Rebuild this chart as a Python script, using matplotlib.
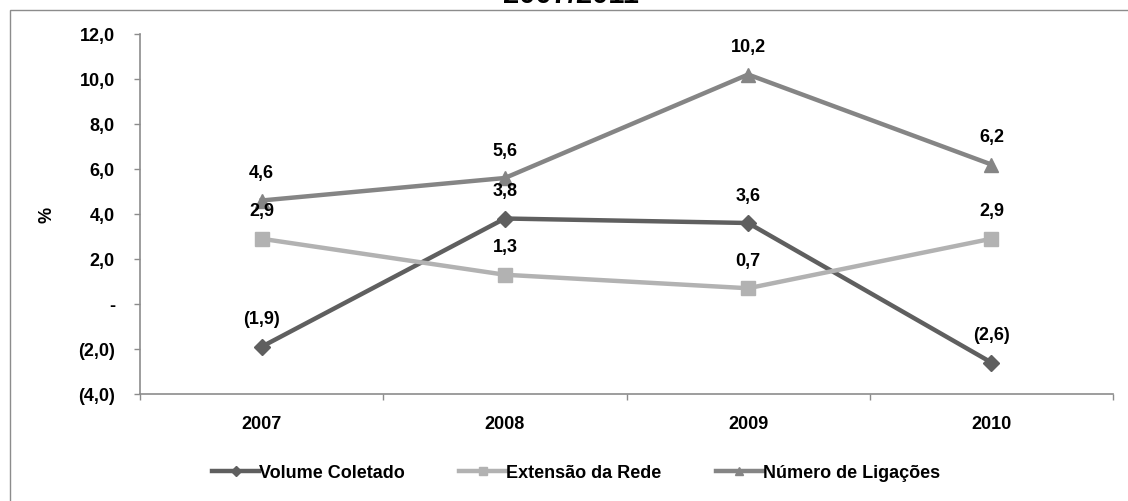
import matplotlib
matplotlib.use("Agg")
import matplotlib.pyplot as plt
from matplotlib.patches import Rectangle

plt.rcParams['font.family'] = ['Liberation Sans', 'DejaVu Sans']
plt.rcParams['font.weight'] = 'bold'

years = ["2007", "2008", "2009", "2010"]
volume_coletado = [-1.9, 3.8, 3.6, -2.6]
extensao_rede = [2.9, 1.3, 0.7, 2.9]
numero_ligacoes = [4.6, 5.6, 10.2, 6.2]
y_ticks = [-4, -2, 0, 2, 4, 6, 8, 10, 12]

series = [
    ("Volume Coletado", volume_coletado, "#5f5f5f", "D", 8),
    ("Extensão da Rede", extensao_rede, "#b2b2b2", "s", 10),
    ("Número de Ligações", numero_ligacoes, "#858585", "^", 10),
]

FS = 13


def fmt(v):
    if abs(v) < 1e-9:
        return "-"
    s = f"{abs(v):.1f}".replace(".", ",")
    return f"({s})" if v < 0 else s


fig = plt.figure(figsize=(11.28, 5.02), dpi=100)
fig.patch.set_facecolor("white")

# outer chart frame
fig.patches.append(Rectangle((10 / 1128, -0.1), 1.2, 1 - 11 / 502 + 0.1,
                             transform=fig.transFigure, fill=False,
                             edgecolor="#8c8c8c", linewidth=1.0))

fig.text(0.506, 1 - 3 / 502, "2007/2011", ha="center", va="baseline",
         fontsize=21, fontweight="bold")

ax = fig.add_axes([140 / 1128, 107 / 502, 973 / 1128, 360 / 502])
x = list(range(len(years)))

handles = []
for name, vals, color, marker, ms in series:
    h, = ax.plot(x, vals, color=color, linewidth=3.2, marker=marker,
                 markersize=ms, markeredgecolor=color, markerfacecolor=color,
                 label=name, solid_joinstyle="miter")
    handles.append(h)
    for xi, v in zip(x, vals):
        ax.annotate(fmt(v), (xi, v), xytext=(0, 20), textcoords="offset points",
                    ha="center", va="center", fontsize=FS, fontweight="bold")

ax.set_xlim(-0.5, 3.5)
ax.set_ylim(-4, 12)
ax.set_yticks(y_ticks)
ax.set_yticklabels([fmt(v) for v in y_ticks], fontsize=FS, fontweight="bold")
ax.set_xticks(x)
ax.set_xticklabels(years, fontsize=FS, fontweight="bold")
ax.set_xticks([-0.5, 0.5, 1.5, 2.5, 3.5], minor=True)
ax.tick_params(axis="x", which="major", length=0, pad=15)
ax.tick_params(axis="x", which="minor", length=4, width=1, color="#8c8c8c",
               direction="out")
ax.tick_params(axis="y", length=4, width=1, color="#8c8c8c", direction="out", pad=14)

for side in ("top", "right"):
    ax.spines[side].set_visible(False)
for side in ("left", "bottom"):
    ax.spines[side].set_color("#8c8c8c")
    ax.spines[side].set_linewidth(1.2)

fig.text(47 / 1128, 1 - 215 / 502, "%", rotation=90, ha="center", va="center",
         fontsize=FS, fontweight="bold")

fig.legend(handles=handles, loc="center", bbox_to_anchor=(576 / 1128, 1 - 474 / 502),
           ncol=3, frameon=False, fontsize=FS, handlelength=2.6,
           handletextpad=0.0, columnspacing=3.0, markerscale=0.6)

fig.savefig("out.png", dpi=100, facecolor="white")
